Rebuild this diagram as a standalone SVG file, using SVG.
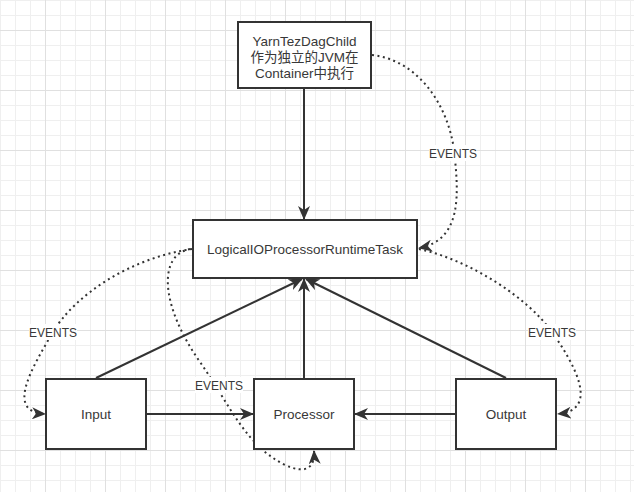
<svg xmlns="http://www.w3.org/2000/svg" width="634" height="492" viewBox="0 0 634 492">
<style>
.box{fill:#fff;stroke:#333;stroke-width:2}
.t{font-family:"Liberation Sans","Noto Sans CJK SC",sans-serif;font-size:13.5px;fill:#383838;text-anchor:middle}
.lbl{font-family:"Liberation Sans","Noto Sans CJK SC",sans-serif;font-size:12px;fill:#383838;text-anchor:middle}
.solid{fill:none;stroke:#333;stroke-width:2}
.dot{fill:none;stroke:#333;stroke-width:2;stroke-dasharray:2 3.5}
.lblbg{fill:#fff}
</style>
<defs>
<pattern id="minor" width="15" height="15" patternUnits="userSpaceOnUse">
<rect x="0" y="0" width="1" height="15" fill="#efefef"/>
<rect x="0" y="0" width="15" height="1" fill="#efefef"/>
</pattern>
<pattern id="major" width="60" height="60" patternUnits="userSpaceOnUse">
<rect x="45" y="0" width="1" height="60" fill="#e0e0e0"/>
<rect x="0" y="30" width="60" height="1" fill="#e0e0e0"/>
</pattern>
<marker id="arr" markerUnits="userSpaceOnUse" markerWidth="14" markerHeight="12" viewBox="0 0 14 12" refX="13" refY="6" orient="auto">
<path d="M0,0 L14,6 L0,12 L4,6 z" fill="#333"/>
</marker>
</defs>
<rect width="634" height="492" fill="#fff"/>
<rect width="634" height="492" fill="url(#minor)"/>
<rect width="634" height="492" fill="url(#major)"/>

<g id="connectors">
<path class="solid" d="M304,88 L304,219" marker-end="url(#arr)"/>
<path class="solid" d="M96,378 L302,279" marker-end="url(#arr)"/>
<path class="solid" d="M304,379 L304,279" marker-end="url(#arr)"/>
<path class="solid" d="M506,378 L306,279" marker-end="url(#arr)"/>
<path class="solid" d="M146,414 L253,414" marker-end="url(#arr)"/>
<path class="solid" d="M456,414 L355,414" marker-end="url(#arr)"/>

<path class="dot" d="M372,55 C418,60 448,105 454,150 C459,195 462,240 419,248" marker-end="url(#arr)"/>
<path class="dot" d="M419,249 C470,260 528,298 552,332 C575,365 600,410 558,414" marker-end="url(#arr)"/>
<path class="dot" d="M192,249 C130,258 75,295 53,332 C32,368 5,412 45,414" marker-end="url(#arr)"/>
<path class="dot" d="M190,249 C158,255 160,305 200,362 C230,405 245,445 285,465 C305,474 315,469 314,451" marker-end="url(#arr)"/>

<g id="lbl1"><rect class="lblbg" x="429" y="145" width="48" height="16"/><text class="lbl" x="453" y="157.5">EVENTS</text></g>
<g id="lbl2"><rect class="lblbg" x="528" y="324" width="48" height="16"/><text class="lbl" x="552" y="336.5">EVENTS</text></g>
<g id="lbl3"><rect class="lblbg" x="29" y="324" width="48" height="16"/><text class="lbl" x="53" y="336.5">EVENTS</text></g>
<g id="lbl4"><rect class="lblbg" x="195" y="377" width="48" height="16"/><text class="lbl" x="219" y="389.5">EVENTS</text></g>
</g>

<g id="yarn">
<rect class="box" x="238" y="22" width="133" height="66"/>
<text class="t" x="304.5" y="45.5">YarnTezDagChild</text>
<text class="t" x="304.5" y="62">作为独立的JVM在</text>
<text class="t" x="304.5" y="78">Container中执行</text>
</g>
<g id="task">
<rect class="box" x="193" y="220" width="224" height="58"/>
<text class="t" x="305" y="253.5">LogicalIOProcessorRuntimeTask</text>
</g>
<g id="input">
<rect class="box" x="46" y="379" width="100" height="70"/>
<text class="t" x="96" y="418.5">Input</text>
</g>
<g id="processor">
<rect class="box" x="254" y="379" width="100" height="70"/>
<text class="t" x="304" y="418.5">Processor</text>
</g>
<g id="output">
<rect class="box" x="456" y="379" width="100" height="70"/>
<text class="t" x="506" y="418.5">Output</text>
</g>
</svg>
